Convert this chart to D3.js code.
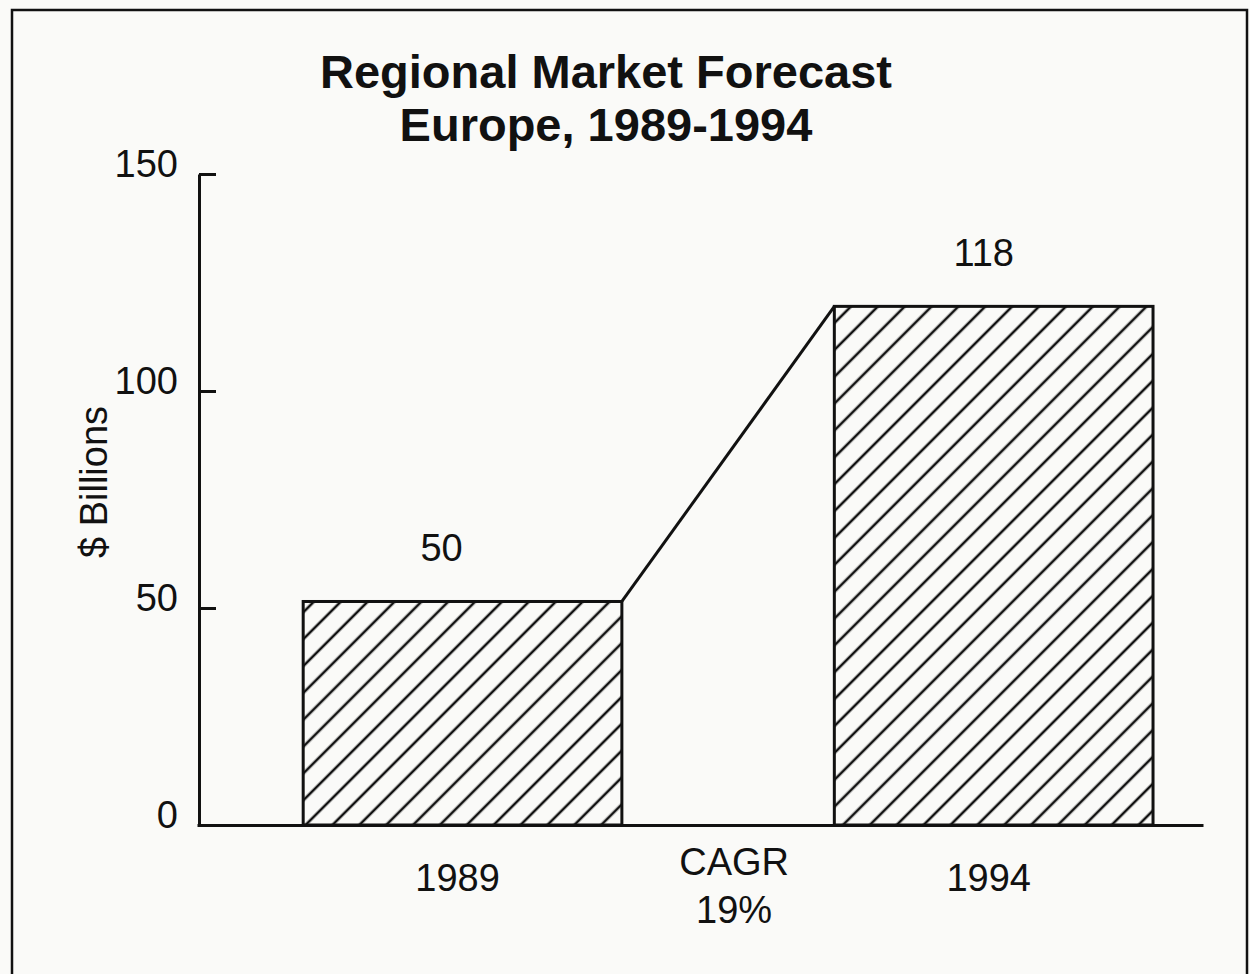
<!DOCTYPE html>
<html>
<head>
<meta charset="utf-8">
<script src="https://cdn.jsdelivr.net/npm/d3@7"></script>
<style>
  html, body { margin: 0; padding: 0; background: #fafaf8; }
  svg { display: block; }
  text { font-family: "Liberation Sans", Arial, Helvetica, sans-serif; fill: #111; }
</style>
</head>
<body>
<script>
// ---- data ----
const titleLines = ["Regional Market Forecast", "Europe, 1989-1994"];
const years = ["1989", "1994"];
const barValues = [51.5, 119.5];      // bar heights as drawn
const valueLabels = ["50", "118"];    // printed labels
const yTicks = [0, 50, 100, 150];
const yLabel = "$ Billions";
const cagrLines = ["CAGR", "19%"];

// ---- layout ----
const W = 1250, H = 974;
const svg = d3.select("body").append("svg").attr("width", W).attr("height", H);

svg.append("rect").attr("x", 0).attr("y", 0).attr("width", W).attr("height", H).attr("fill", "#fafaf8");
// frame
svg.append("rect").attr("x", 12).attr("y", 10).attr("width", 1235).attr("height", 1000)
  .attr("fill", "none").attr("stroke", "#111").attr("stroke-width", 2.5);

// hatch pattern
const defs = svg.append("defs");
const pat = defs.append("pattern").attr("id", "hatch")
  .attr("patternUnits", "userSpaceOnUse")
  .attr("width", 19).attr("height", 19)
  .attr("patternTransform", "translate(0,2) rotate(45)");
pat.append("line").attr("x1", 0).attr("y1", -2).attr("x2", 0).attr("y2", 21)
  .attr("stroke", "#111").attr("stroke-width", 2.6);
pat.append("line").attr("x1", 19).attr("y1", -2).attr("x2", 19).attr("y2", 21)
  .attr("stroke", "#111").attr("stroke-width", 2.6);

const y = d3.scaleLinear().domain([0, 150]).range([825, 174]);
const x = d3.scaleBand().domain(years).range([197, 1203])
  .paddingInner(0.4).paddingOuter(0.147).align(0.68);

// title
svg.append("g").selectAll("text").data(titleLines).join("text")
  .attr("x", 606).attr("y", (d, i) => 88 + i * 53)
  .attr("text-anchor", "middle")
  .style("font-weight", "bold").style("font-size", "47px")
  .text(d => d);

// bars
svg.append("g").selectAll("rect").data(years).join("rect")
  .attr("x", d => x(d))
  .attr("y", (d, i) => y(barValues[i]))
  .attr("width", x.bandwidth())
  .attr("height", (d, i) => y(0) - y(barValues[i]))
  .attr("fill", "url(#hatch)")
  .attr("stroke", "#111").attr("stroke-width", 3);

// connector line
const pts = [
  [x(years[0]) + x.bandwidth(), y(barValues[0])],
  [x(years[1]), y(barValues[1])]
];
svg.append("path").attr("d", d3.line()(pts))
  .attr("fill", "none").attr("stroke", "#111").attr("stroke-width", 3);

// value labels
const nudge = [-21, -10];
svg.append("g").selectAll("text").data(valueLabels).join("text")
  .attr("x", (d, i) => x(years[i]) + x.bandwidth() / 2 + nudge[i])
  .attr("y", (d, i) => y(barValues[i]) - 40)
  .attr("text-anchor", "middle").style("font-size", "38px")
  .text(d => d);

// y axis
const yAxis = d3.axisLeft(y).tickValues(yTicks).tickSizeInner(-17).tickSizeOuter(0).tickPadding(21);
const gy = svg.append("g").attr("transform", "translate(199,0)").call(yAxis);
gy.select(".domain").attr("stroke", "#111").attr("stroke-width", 3);
gy.selectAll(".tick line").attr("stroke", "#111").attr("stroke-width", 3);
gy.selectAll(".tick text").attr("dy", "0.06em")
  .style("font-size", "38px").style("font-family", "Liberation Sans, Arial, sans-serif").attr("fill", "#111");

// x axis
const xAxis = d3.axisBottom(x).tickSize(0).tickSizeOuter(0).tickPadding(0);
const gx = svg.append("g").attr("transform", `translate(0,${y(0)})`).call(xAxis);
gx.select(".domain").attr("stroke", "#111").attr("stroke-width", 3);
gx.selectAll(".tick text").attr("dx", -5).attr("y", 66).attr("dy", 0)
  .style("font-size", "38px").style("font-family", "Liberation Sans, Arial, sans-serif").attr("fill", "#111");

// CAGR
const gapMid = (x(years[0]) + x.bandwidth() + x(years[1])) / 2;
svg.append("g").selectAll("text").data(cagrLines).join("text")
  .attr("x", gapMid + 6).attr("y", (d, i) => 875 + i * 48)
  .attr("text-anchor", "middle").style("font-size", "38px")
  .text(d => d);

// y label
svg.append("text")
  .attr("transform", "translate(107,482) rotate(-90)")
  .attr("text-anchor", "middle").style("font-size", "38px")
  .text(yLabel);
</script>
</body>
</html>
